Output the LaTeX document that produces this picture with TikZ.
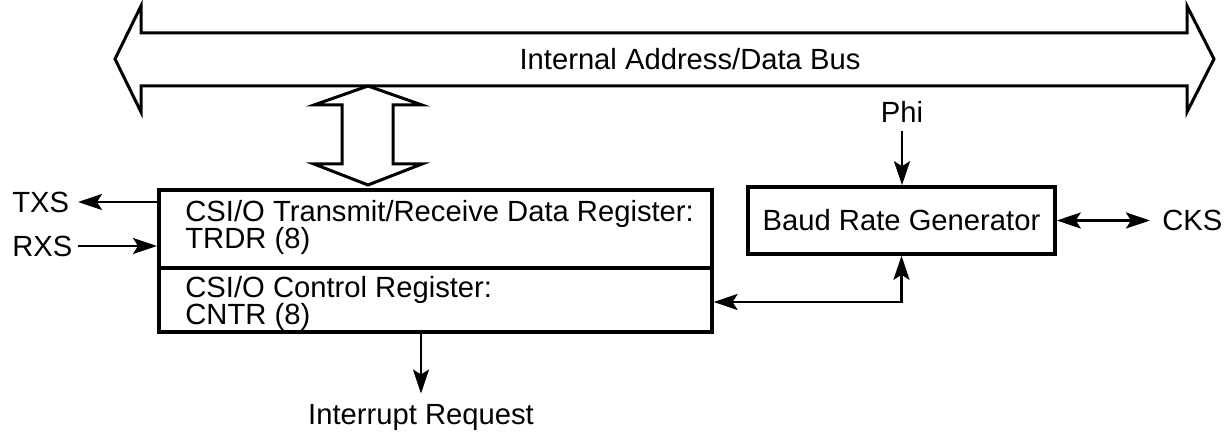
\documentclass[tikz,border=0pt]{standalone}
\usepackage{fontspec}
\setmainfont{Liberation Sans}
\usetikzlibrary{arrows.meta}
\begin{document}
\begin{tikzpicture}[x=0.5pt,y=-0.5pt,
  every node/.style={font=\fontsize{14.6}{16}\selectfont},
  outline/.style={line width=1.5pt, line join=miter},
  regbox/.style={draw, line width=1.8pt, inner sep=0pt, anchor=north west},
  lbl/.style={inner sep=0pt, anchor=base west},
  conn/.style={line width=1.2pt, -{Stealth[length=12pt,width=8pt,inset=2.5pt]}},
  conntwo/.style={line width=1.2pt, {Stealth[length=12pt,width=8pt,inset=2.5pt]}-{Stealth[length=12pt,width=8pt,inset=2.5pt]}}
]
\useasboundingbox (0,0) rectangle (1226,432);

% internal bus (wide double arrow)
\draw[outline] (141,33) -- (141,6) -- (115,59) -- (141,112) -- (141,86) -- (1187,86)
  -- (1187,112) -- (1214,59) -- (1187,6) -- (1187,33) -- cycle;
\node[inner sep=0pt, anchor=base] (buslbl) at (690,70) {Internal Address/Data Bus};

% vertical double arrow between bus and register
\draw[outline] (368,86) -- (422,105) -- (393,105) -- (393,164) -- (422,164) -- (368,185)
  -- (314,164) -- (342,164) -- (342,105) -- (314,105) -- cycle;

% register boxes
\node[regbox, line width=1.8pt, minimum width=276.5pt, minimum height=39pt] (trdr) at (157,188) {};
\node[regbox, line width=1.8pt, minimum width=276.5pt, minimum height=32pt] (cntr) at (157,266) {};
\node[lbl] (t1) at (185,222) {CSI/O Transmit/Receive Data Register:};
\node[lbl] (t2) at (185,249) {TRDR (8)};
\node[lbl] (c1) at (185,298) {CSI/O Control Register:};
\node[lbl] (c2) at (185,325) {CNTR (8)};

% baud rate generator
\node[regbox, anchor=center, minimum width=153.5pt, minimum height=33.5pt] (baud) at (901.5,220.5) {Baud Rate Generator};

% Phi
\node[inner sep=0pt, anchor=base] (phi) at (902,123) {Phi};
\draw[conn] ([yshift=-4pt]phi.south) -- (phi.south |- baud.north);

% CKS
\node[inner sep=0pt, anchor=west] (cks) at (1162,220.5) {CKS};
\draw[conntwo, shorten >=6pt] (baud.east) -- (cks.west);

% CNTR <-> baud
\coordinate (cb) at (901.5,302);
\draw[conntwo] (cntr.east |- cb) -- (cb) -- (baud.south);

% TXS / RXS
\node[inner sep=0pt, anchor=west] (txs) at (12,202) {TXS};
\node[inner sep=0pt, anchor=west] (rxs) at (12,246) {RXS};
\draw[conn] (trdr.west |- txs) -- (78,202);
\coordinate (rxsstart) at (78,246);
\draw[conn] (rxsstart) -- (trdr.west |- rxs);

% interrupt
\node[inner sep=0pt, anchor=base] (irq) at (421,425) {Interrupt Request};
\draw[conn, shorten >=5.5pt] (cntr.south -| irq) -- (irq.north);
\end{tikzpicture}
\end{document}
